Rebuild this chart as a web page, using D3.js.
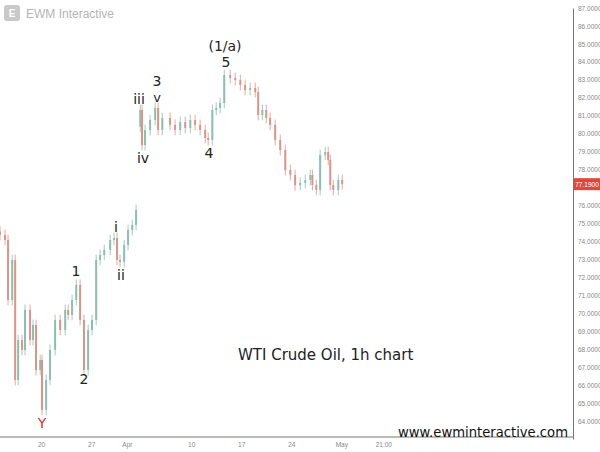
<!DOCTYPE html><html><head><meta charset="utf-8"><script src="https://cdn.jsdelivr.net/npm/d3@7"></script>
<style>body{margin:0;background:#fff}</style></head><body><svg id="c" width="600" height="452"></svg><script>
const hours=[-138,-121,-111,-97,-87,-77,-64,-54,-37,-27,-17,-3,3,17,30,47,64,81,91,104,118,131,144,158,171,185,198,212,232,245,255,265,279,292,306,319,333,339,349,366,383,393,407,433,450,467,484,501,517,534,551,561,575,588,601,615,635,652,669,685,702,719,729,743,756,769,786,803,820,837,853,870,887,904,911,924,937,954,964,971,981,998,1011];
const closes=[74.36,74.08,70.74,72.97,66.29,68.51,67.96,70.19,68.51,69.35,66.84,67.40,64.62,66.29,67.96,69.63,69.07,70.19,69.91,70.74,71.58,69.63,66.84,69.07,69.63,72.97,73.25,73.53,74.08,74.19,72.97,72.86,73.80,74.64,74.92,75.75,81.32,79.37,80.21,80.76,81.43,80.21,80.88,80.49,80.21,80.65,80.32,80.76,80.49,80.21,79.76,79.65,81.32,81.43,81.71,83.27,83.10,82.99,82.71,82.43,82.55,82.32,81.04,81.32,80.88,80.49,79.65,79.09,77.98,77.70,77.14,77.26,77.42,77.70,77.14,76.87,78.82,78.98,78.54,77.14,76.87,77.42,77.19];
const gapOpens={36:80.4};
const yTicks=d3.range(64,88).filter(v=>v!==77);
const xTickDates=[new Date(2023,2,20),new Date(2023,2,27),new Date(2023,3,1),new Date(2023,3,10),new Date(2023,3,17),new Date(2023,3,24),new Date(2023,4,1),new Date(2023,4,6,21)];
const xTickLabels=["20","27","Apr","10","17","24","May","21:00"];
const waves=[["Y",42,428,"#e0312f"],["1",76,276,"#222"],["2",84,384,"#222"],["i",116,232,"#222"],["ii",121,280,"#222"],["iii",139,104,"#222"],["iv",143,163,"#222"],["3",157,86,"#222"],["v",157,102,"#222"],["4",209,158,"#222"],["5",226,67,"#222"],["(1/a)",225,51,"#222"]];
const svg=d3.select("#c");
const base=new Date(2023,2,20);
const dates=hours.map(h=>d3.timeHour.offset(base,h));
const x=d3.scaleTime().domain([d3.timeHour.offset(base,-138),d3.timeHour.offset(base,1786)]).range([0,573]);
const y=d3.scaleLinear().domain([63,87]).range([439,8]);
const ya=svg.append("g").attr("transform","translate(573,0)").call(d3.axisRight(y).tickValues(yTicks).tickSize(0).tickPadding(5).tickFormat(d=>d.toFixed(4)));
ya.select(".domain").attr("stroke","#777");
ya.selectAll("text").attr("fill","#888").attr("font-size",6.5).attr("font-family","Arial, Liberation Sans");
const xa=svg.append("g").attr("transform","translate(0,437)").call(d3.axisBottom(x).tickValues(xTickDates).tickSize(0).tickPadding(5).tickFormat((d,i)=>xTickLabels[i]));
xa.select(".domain").attr("stroke","#777").attr("d","M0,0H573");
xa.selectAll("text").attr("fill","#888").attr("font-size",6.5).attr("font-family","Arial, Liberation Sans");
const g=svg.append("g");
closes.forEach((c,i)=>{
  const o=gapOpens[i]!==undefined?gapOpens[i]:(i?closes[i-1]:c+0.2);
  const up=c>=o, col=up?"#8bbfae":"#d9958a";
  const cx=x(dates[i]);
  g.append("line").attr("x1",cx).attr("x2",cx).attr("y1",y(Math.max(o,c)+0.3)).attr("y2",y(Math.min(o,c)-0.3)).attr("stroke",col).attr("stroke-width",0.8);
  g.append("rect").attr("x",cx-1).attr("width",2).attr("y",y(Math.max(o,c))).attr("height",Math.max(1,Math.abs(y(o)-y(c)))).attr("fill",col);
});
const last=closes[closes.length-1];
svg.append("rect").attr("x",574).attr("y",y(last)-6).attr("width",26).attr("height",12).attr("fill","#e0473a");
svg.append("text").attr("x",587).attr("y",y(last)+2.5).attr("text-anchor","middle").attr("fill","#fff").attr("font-size",6.5).attr("font-family","Arial, Liberation Sans").text(last.toFixed(4));
waves.forEach(w=>svg.append("text").attr("x",w[1]).attr("y",w[2]).attr("text-anchor","middle").attr("fill",w[3]).attr("font-size",w[0]==="v"?13:14).attr("font-family","DejaVu Sans, Arial").text(w[0]));
const lg=svg.append("g").attr("transform","translate(4,5)");
lg.append("rect").attr("width",16).attr("height",16).attr("rx",3).attr("fill","#c9c9c9");
lg.append("text").attr("x",8).attr("y",12).attr("text-anchor","middle").attr("fill","#fff").attr("font-size",10).attr("font-weight","bold").attr("font-family","Arial").text("E");
lg.append("text").attr("x",22).attr("y",13).attr("fill","#b5b5b5").attr("font-size",12).attr("font-family","Liberation Sans, Arial").text("EWM Interactive");
svg.append("text").attr("x",238).attr("y",360).attr("fill","#222").attr("font-size",15).attr("font-family","DejaVu Sans, Arial").text("WTI Crude Oil, 1h chart");
svg.append("text").attr("x",398).attr("y",437).attr("fill","#111").attr("font-size",14).attr("textLength",170).attr("lengthAdjust","spacingAndGlyphs").attr("font-family","DejaVu Sans, Arial").text("www.ewminteractive.com");
</script></body></html>
